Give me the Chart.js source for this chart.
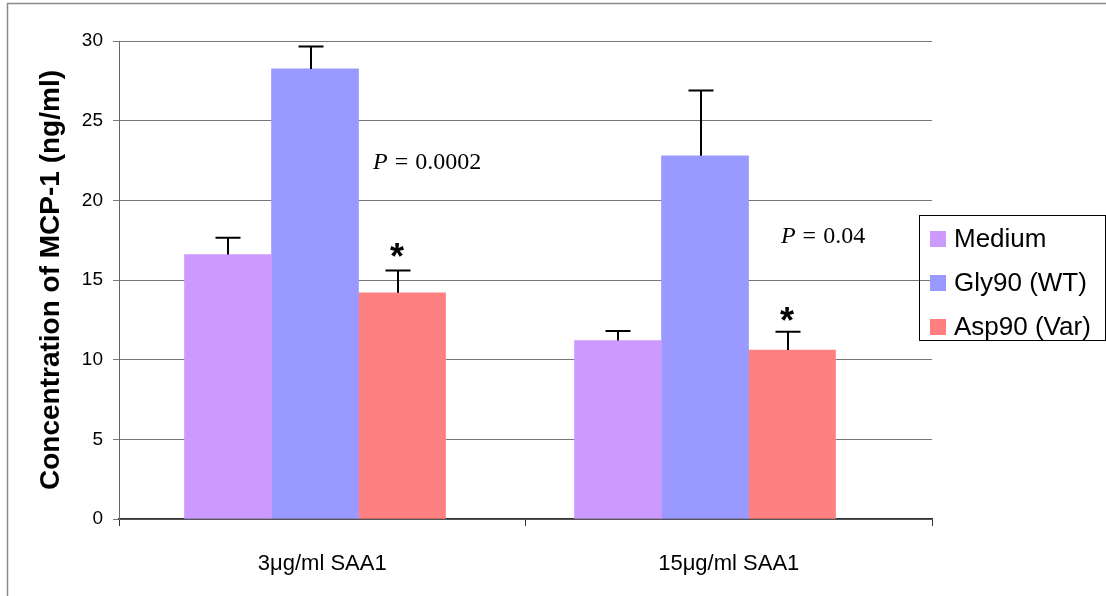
<!DOCTYPE html>
<html>
<head>
<meta charset="utf-8">
<script src="https://cdn.jsdelivr.net/npm/chart.js@4"></script>
<style>
  html, body { margin: 0; padding: 0; background: #fff; }
  #wrap { width: 1106px; height: 596px; position: relative; }
</style>
</head>
<body>
<div id="wrap"><canvas id="mcp"></canvas></div>
<script>
const categories = ['3μg/ml SAA1', '15μg/ml SAA1'];
const seriesNames = ['Medium', 'Gly90 (WT)', 'Asp90 (Var)'];
const seriesColors = ['#CC99FF', '#9999FF', '#FF8080'];
const medium = [16.6, 11.2];
const gly90 = [28.25, 22.8];
const asp90 = [14.2, 10.6];
const mediumErr = [1.05, 0.6];
const gly90Err = [1.4, 4.1];
const asp90Err = [1.4, 1.15];
// p-value notes: [category position, y value, text]
const pNotes = [[0.258, 22.35, '0.0002'], [1.232, 17.7, '0.04']];
// asterisks over the variant bars: y value of their centre
const starLevel = [17.0, 13.0];

const errors = [mediumErr, gly90Err, asp90Err];
const toPoints = arr => arr.map((v, i) => ({ x: i, y: v }));

const extras = {
  id: 'extras',
  beforeDraw(chart) {
    const c = chart.ctx;
    c.save();
    c.strokeStyle = '#8a8a8a';
    c.lineWidth = 1.5;
    c.beginPath();
    c.moveTo(7.5, 600); c.lineTo(7.5, 3.5); c.lineTo(1110, 3.5);
    c.stroke();
    c.restore();
  },
  afterDatasetsDraw(chart) {
    const c = chart.ctx;
    const y = chart.scales.y, x = chart.scales.x;
    c.save();
    c.strokeStyle = '#000';
    c.lineWidth = 2;
    chart.data.datasets.forEach((ds, i) => {
      const meta = chart.getDatasetMeta(i);
      meta.data.forEach((bar, j) => {
        const ex = Math.round(bar.x - (i === 0 ? 0 : 4));
        const top = y.getPixelForValue(ds.data[j].y + errors[i][j]);
        const base = y.getPixelForValue(ds.data[j].y);
        c.beginPath();
        c.moveTo(ex, base); c.lineTo(ex, top);
        c.moveTo(ex - 12.5, top); c.lineTo(ex + 12.5, top);
        c.stroke();
      });
    });
    // asterisks
    c.fillStyle = '#000';
    c.font = 'bold 36px "Liberation Sans", Arial, sans-serif';
    c.textAlign = 'center';
    c.textBaseline = 'alphabetic';
    const aspMeta = chart.getDatasetMeta(2);
    aspMeta.data.forEach((bar, j) => {
      c.fillText('*', bar.x - 5, y.getPixelForValue(starLevel[j]) + 21);
    });
    // p values
    c.textBaseline = 'middle';
    c.textAlign = 'left';
    const serif = '"Liberation Serif", "Times New Roman", serif';
    pNotes.forEach(([pos, val, txt]) => {
      const px = x.getPixelForValue(pos);
      const py = y.getPixelForValue(val);
      c.font = 'italic 24px ' + serif;
      const wP = c.measureText('P').width;
      c.font = '24px ' + serif;
      const wEq = c.measureText('=').width;
      const wN = c.measureText(txt).width;
      const gap = 7;
      let x0 = px - (wP + wEq + wN + 2 * gap) / 2;
      c.font = 'italic 24px ' + serif;
      c.fillText('P', x0, py);
      x0 += wP + gap;
      c.font = '24px ' + serif;
      c.fillText('=', x0, py);
      x0 += wEq + gap;
      c.fillText(txt, x0, py);
    });
    // legend
    c.strokeStyle = '#000';
    c.lineWidth = 1;
    c.strokeRect(919.5, 215.5, 186, 125);
    c.font = '26px "Liberation Sans", Arial, sans-serif';
    c.textAlign = 'left';
    seriesNames.forEach((name, i) => {
      const ly = 239 + i * 44;
      c.fillStyle = seriesColors[i];
      c.fillRect(930, ly - 8, 16, 16);
      c.fillStyle = '#000';
      c.fillText(name, 954, ly + 1);
    });
    c.restore();
  }
};

new Chart(document.getElementById('mcp'), {
  type: 'bar',
  data: {
    labels: categories,
    datasets: [
      { label: seriesNames[0], data: toPoints(medium), backgroundColor: seriesColors[0], xAxisID: 'xb' },
      { label: seriesNames[1], data: toPoints(gly90), backgroundColor: seriesColors[1], xAxisID: 'xb' },
      { label: seriesNames[2], data: toPoints(asp90), backgroundColor: seriesColors[2], xAxisID: 'xb' }
    ]
  },
  options: {
    responsive: true,
    maintainAspectRatio: false,
    animation: false,
    layout: { padding: { top: 41, right: 174, left: 34, bottom: 0 } },
    datasets: { bar: { barThickness: 87 } },
    plugins: { legend: { display: false }, tooltip: { enabled: false } },
    scales: {
      x: {
        type: 'category',
        offset: true,
        grid: { drawOnChartArea: false, offset: true, tickLength: 7, color: '#333' },
        border: { color: '#333', width: 1.5 },
        ticks: { color: '#000', padding: 25, font: { family: '"Liberation Sans", Arial, sans-serif', size: 22 } },
        afterFit: s => { s.height = 77; }
      },
      xb: {
        type: 'linear',
        display: false,
        offset: false,
        grid: { offset: false },
        min: -0.5026,
        max: 1.582
      },
      y: {
        min: 0,
        max: 30,
        ticks: { stepSize: 5, color: '#000', padding: 10, font: { family: '"Liberation Sans", Arial, sans-serif', size: 19 } },
        grid: { color: '#777', tickLength: 6 },
        border: { color: '#666', width: 1 },
        title: {
          display: true,
          text: 'Concentration of MCP-1 (ng/ml)',
          color: '#000',
          padding: 0,
          font: { family: '"Liberation Sans", Arial, sans-serif', size: 28, weight: 'bold' }
        },
        afterFit: s => { s.width = 85; }
      }
    }
  },
  plugins: [extras]
});
</script>
</body>
</html>
